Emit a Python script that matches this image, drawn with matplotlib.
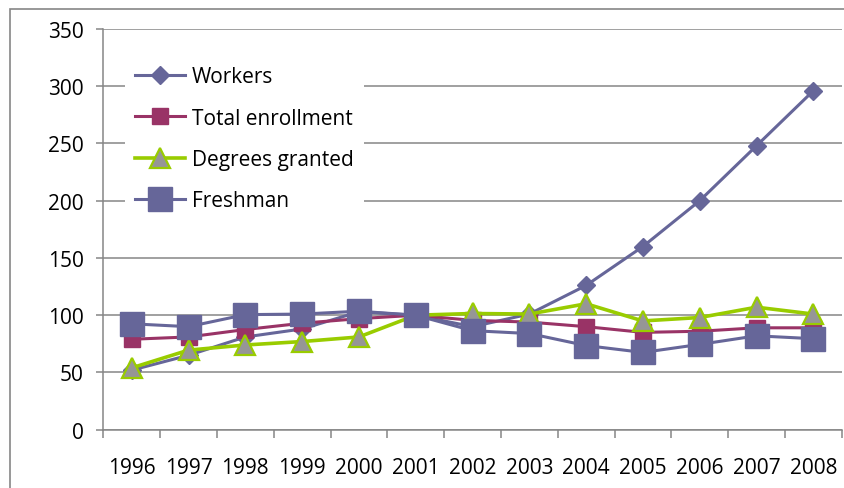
import matplotlib
matplotlib.use('Agg')
import matplotlib.pyplot as plt
from matplotlib.patches import Rectangle

years = ['1996', '1997', '1998', '1999', '2000', '2001', '2002',
         '2003', '2004', '2005', '2006', '2007', '2008']

workers = [52, 65, 81, 88, 103, 100, 90, 101, 126, 160, 200, 248, 296]
total_enrollment = [79, 81, 87.5, 93, 97, 100, 95.5, 94, 90, 85, 86, 89, 89]
degrees_granted = [54, 69.5, 74, 77, 81, 100, 101.5, 101, 110, 95, 98, 107, 101]
freshman = [92.5, 90, 100.5, 101, 103.5, 100, 86.5, 84, 73.5, 67.5, 74.5, 82, 79.5]

plt.rcParams['font.family'] = ['Open Sans', 'DejaVu Sans']

W, H = 844, 489
fig = plt.figure(figsize=(W / 100, H / 100), dpi=100)
ax = fig.add_axes([103.3 / W, 1 - 430.7 / H, (841.7 - 103.3) / W, (430.7 - 30) / H])

grid_c = '#868686'
x = range(len(years))

ax.plot(x, workers, color='#666699', lw=2.2, marker='D', ms=9.5,
        mfc='#666699', mec='#666699', label='Workers', zorder=3)
ax.plot(x, total_enrollment, color='#993366', lw=2.2, marker='s', ms=12,
        mfc='#993366', mec='#993366', label='Total enrollment', zorder=4)
ax.plot(x, degrees_granted, color='#99CC00', lw=2.6, marker='^', ms=15,
        mfc='#969696', mec='#99CC00', mew=1.6, label='Degrees granted', zorder=5)
ax.plot(x, freshman, color='#666699', lw=2.2, marker='s', ms=17,
        mfc='#666699', mec='#666699', label='Freshman', zorder=6)

ax.set_xlim(-0.5, len(years) - 0.5)
ax.set_ylim(0, 350)
ax.set_yticks(range(0, 351, 50))
ax.yaxis.grid(True, color=grid_c, lw=1.1)
ax.set_axisbelow(True)

# year labels sit between the category boundary ticks
ax.set_xticks(list(x))
ax.set_xticklabels(years, fontsize=15)
ax.tick_params(axis='x', which='major', length=0, pad=20)
ax.set_xticks([i - 0.5 for i in range(len(years) + 1)], minor=True)
ax.tick_params(axis='x', which='minor', length=6, width=1.1, color=grid_c)
ax.tick_params(axis='y', length=5, width=1.1, color=grid_c, pad=9, labelsize=15)

for s in ['top', 'right']:
    ax.spines[s].set_visible(False)
for s in ['left', 'bottom']:
    ax.spines[s].set_color(grid_c)
    ax.spines[s].set_linewidth(1.1)

leg = ax.legend(loc='upper left', bbox_to_anchor=(125 / W, 1 - 57 / H),
                bbox_transform=fig.transFigure, fontsize=15, frameon=True,
                fancybox=False, framealpha=1, edgecolor='none', facecolor='white',
                handlelength=2.4, handletextpad=0.3, labelspacing=0.97,
                borderpad=0.5, borderaxespad=0)
leg.set_zorder(10)

# outer chart border
fig.add_artist(Rectangle((10 / W, -0.1), 1.1, 1 - 10 / H + 0.1, fill=False,
                         edgecolor=grid_c, lw=1.2, transform=fig.transFigure))

fig.savefig('out.png', dpi=100)
